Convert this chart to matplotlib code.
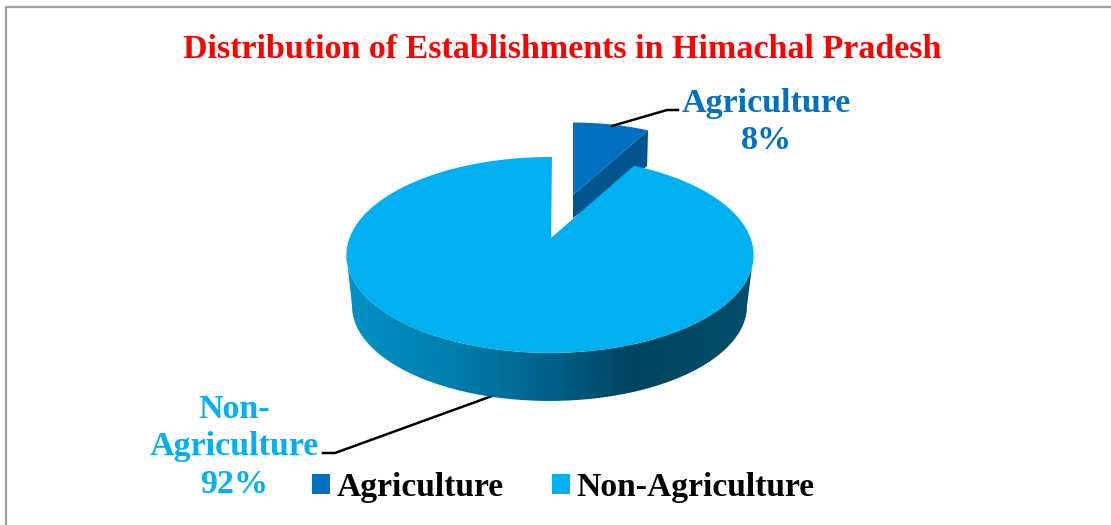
import numpy as np
import matplotlib
matplotlib.use('Agg')
import matplotlib.pyplot as plt
from matplotlib.colors import LinearSegmentedColormap
from matplotlib.patches import Polygon, Patch

title = 'Distribution of Establishments in Himachal Pradesh'
categories = ['Agriculture', 'Non-Agriculture']
values = [8, 92]
colors = ['#0070c0', '#00b0f0']
plt.rcParams['font.family'] = ['Liberation Serif', 'DejaVu Serif']
plt.rcParams['font.weight'] = 'bold'

K = 0.173


def rim(theta, cx, cy, scale=1.0):
    # circle seen from above, nearer side drawn bigger
    xx = np.sin(theta)
    yy = np.cos(theta)
    d = 1 + K * yy
    return np.column_stack([cx + scale * 200.5 * xx / d, cy - scale * 95 * yy / d])


fig = plt.figure(figsize=(11.11, 5.25), dpi=100)
ax = fig.add_axes([0, 0, 1, 1])
ax.set_xlim(0, 1111)
ax.set_ylim(525, 0)
ax.axis('off')

# chart frame
ax.plot([1111, 5.5, 5.5], [6.5, 6.5, 525], color='#a0a0a0', lw=1.6)

split = 2 * np.pi * values[0] / sum(values)

# exploded slice
t = np.linspace(0, split, 40)
top = rim(t, 573, 195, 0.895)
ax.add_patch(Polygon([[573, 195], top[-1], [top[-1][0] - 1, top[-1][1] + 36], [573, 218]],
                     fc='#00558f', lw=0))
ax.add_patch(Polygon(np.vstack([[[573, 195]], top]), fc=colors[0], lw=0))

# wall of the big slice with the shading running left to right
t = np.linspace(0, 2 * np.pi, 721)
upper = rim(t, 550, 238)
lower = rim(t, 549.5, 289.5, 0.97)
i0, i1 = upper[:, 0].argmax(), upper[:, 0].argmin()
wall = np.vstack([upper[i0:i1 + 1], lower[i0:i1 + 1][::-1]])
shade = LinearSegmentedColormap.from_list('wall', [(0, '#0092c8'), (0.26, '#007eae'), (0.5, '#00618a'),
                                                    (0.7, '#00455f'), (1, '#004f6b')])
img = ax.imshow(np.linspace(0, 1, 256)[None, :], cmap=shade, aspect='auto',
                extent=[346, 753, 410, 250], zorder=2)
poly = Polygon(wall, fc='none', lw=0, zorder=2)
ax.add_patch(poly)
img.set_clip_path(poly)
ax.set_xlim(0, 1111)
ax.set_ylim(525, 0)

# top of the big slice
t = np.linspace(split, 2 * np.pi, 400)
ax.add_patch(Polygon(np.vstack([[[551, 238]], rim(t, 550, 238), [[552, 157]]]), fc=colors[1], lw=0, zorder=3))

# leader lines
ax.plot([612, 667, 678], [126, 110, 110], color='black', lw=1.8, zorder=4)
ax.plot([323, 335, 492], [453, 453, 396], color='black', lw=1.8, zorder=1)

ax.text(562, 50, title, color='#ff0000', fontsize=24.5, ha='center', va='center')
ax.text(766, 122, f'{categories[0]}\n{values[0]}%', color=colors[0], fontsize=24.5,
        ha='center', va='center', linespacing=1.27)
ax.text(234, 447, f'Non-\n{categories[0]}\n{values[1]}%', color=colors[1], fontsize=24.5,
        ha='center', va='center', linespacing=1.27)

handles = [Patch(fc=c, lw=0, label=n) for c, n in zip(colors, categories)]
ax.legend(handles=handles, ncol=2, frameon=False, fontsize=24.2, loc='center left',
          bbox_to_anchor=(0.2808, 0.072), handlelength=0.53, handleheight=0.53,
          handletextpad=0.2, columnspacing=1.44, labelcolor='black', borderpad=0, borderaxespad=0)

fig.savefig('out.png', dpi=100)
